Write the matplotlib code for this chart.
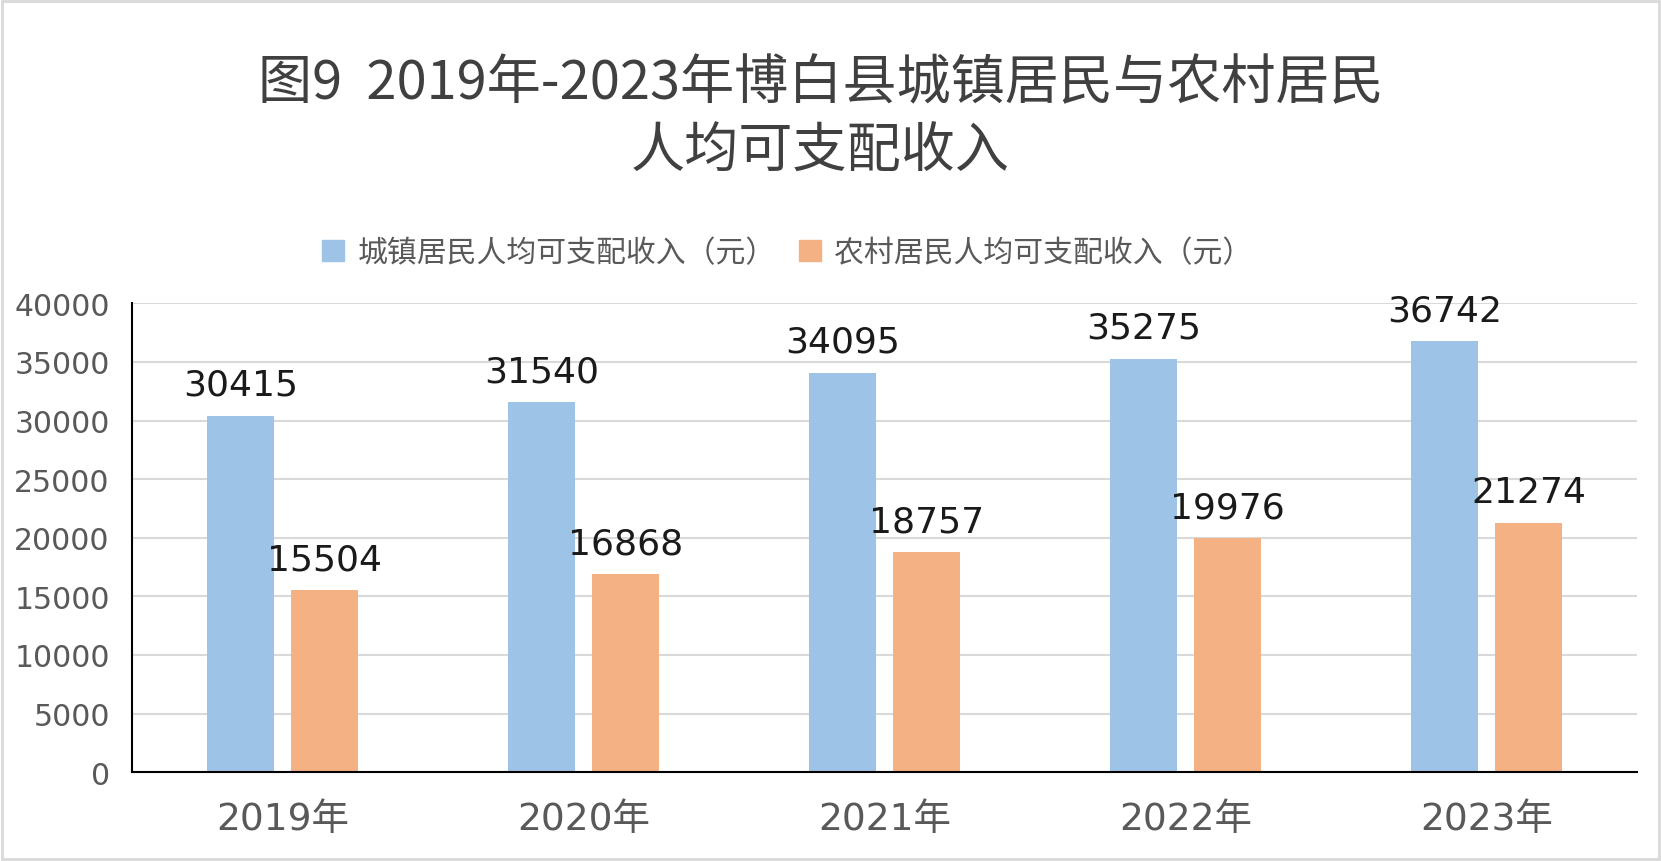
import numpy as np
import matplotlib
matplotlib.use('Agg')
import matplotlib.pyplot as plt
from matplotlib.patches import Rectangle, Patch

plt.rcParams['font.family'] = ['DejaVu Sans', 'Noto Sans CJK SC']

years = ['2019年', '2020年', '2021年', '2022年', '2023年']
urban = [30415, 31540, 34095, 35275, 36742]
rural = [15504, 16868, 18757, 19976, 21274]
urban_name = '城镇居民人均可支配收入（元）'
rural_name = '农村居民人均可支配收入（元）'
title1 = '图9  2019年-2023年博白县城镇居民与农村居民'
title2 = '人均可支配收入'

blue = '#9dc3e6'
orange = '#f4b183'
grey_txt = '#595959'

fig = plt.figure(figsize=(16.61, 8.62), dpi=100)
ax = fig.add_axes([0.0795, 0.103, 0.9061, 0.544])

x = np.arange(len(years))
w = 0.223
off = 0.14
b1 = ax.bar(x - off, urban, w, color=blue, zorder=2)
b2 = ax.bar(x + off, rural, w, color=orange, zorder=2)

for bars, vals in ((b1, urban), (b2, rural)):
    for b, v in zip(bars, vals):
        ax.annotate(str(v), (b.get_x() + b.get_width() / 2, v),
                    xytext=(0, 10), textcoords='offset points',
                    ha='center', va='bottom', fontsize=26, color='#1a1a1a')

ax.set_xlim(-0.5, len(years) - 0.5)
ax.set_ylim(0, 40000)
ax.set_yticks(range(0, 40001, 5000))
ax.set_xticks(x)
ax.set_xticklabels(years)
ax.yaxis.grid(True, color='#d9d9d9', lw=1.5, zorder=0)
ax.set_axisbelow(True)
for s in ('top', 'right'):
    ax.spines[s].set_visible(False)
ax.spines['left'].set_linewidth(1.5)
ax.spines['bottom'].set_linewidth(1.5)
ax.tick_params(axis='y', length=0, pad=16, labelsize=21.5, labelcolor=grey_txt)
ax.tick_params(axis='x', length=0, pad=21, labelsize=27, labelcolor=grey_txt)

fig.text(0.494, 0.903, title1, ha='center', va='center', fontsize=39, fontweight='light',
         color='#404040', family=['Noto Sans CJK SC', 'DejaVu Sans'])
fig.text(0.494, 0.823, title2, ha='center', va='center', fontsize=39, fontweight='light',
         color='#404040', family=['Noto Sans CJK SC', 'DejaVu Sans'])

handles = [Patch(color=blue, label=urban_name), Patch(color=orange, label=rural_name)]
fig.legend(handles=handles, loc='center', bbox_to_anchor=(0.474, 0.706), ncol=2,
           frameon=False, handlelength=0.75, handleheight=0.75, handletextpad=0.45,
           columnspacing=0.75, prop={'family': ['Noto Sans CJK SC'], 'size': 21.5, 'weight': 'light'},
           labelcolor=grey_txt)

fig.patches.append(Rectangle((0.0015, 0.0025), 0.997, 0.995, transform=fig.transFigure,
                             fill=False, edgecolor='#d9d9d9', lw=2))

fig.savefig('out.png', dpi=100)
